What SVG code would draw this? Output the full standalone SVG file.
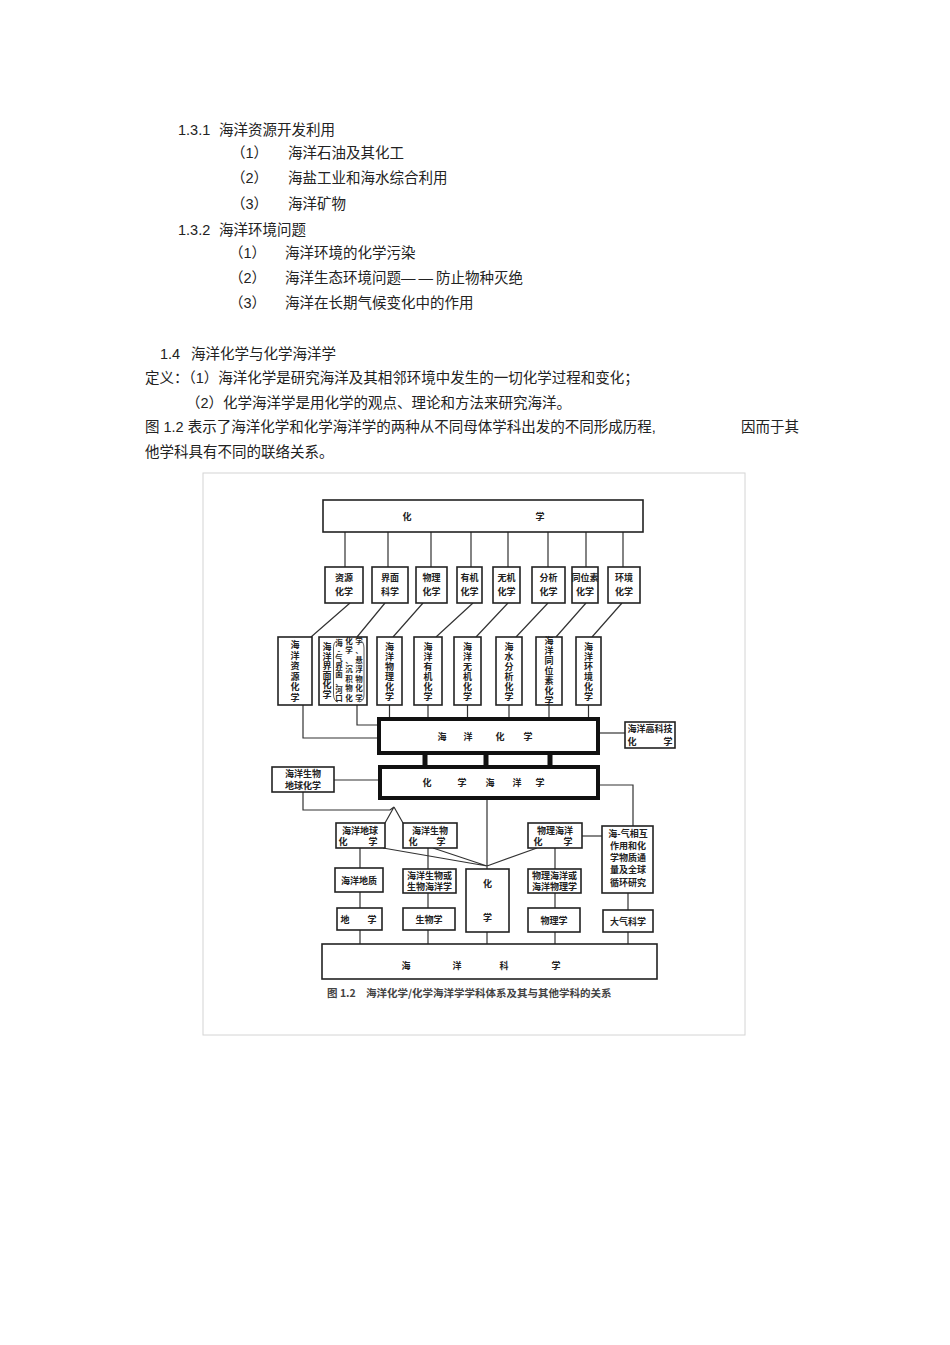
<svg xmlns="http://www.w3.org/2000/svg" width="950" height="1345" viewBox="0 0 950 1345">
<style>
.t{font-family:"Liberation Sans","Noto Sans CJK SC",sans-serif;font-size:14.5px;fill:#222}
.d{font-family:"Noto Sans CJK SC",sans-serif;font-size:9px;font-weight:bold;fill:#222;text-anchor:middle}
.s{font-size:7.5px}
.b{fill:#fff;stroke:#222;stroke-width:1.6}
.bt{fill:#fff;stroke:#111;stroke-width:4}
.c{fill:none;stroke:#333;stroke-width:1.2}
.cap{font-family:"Noto Sans CJK SC",sans-serif;font-size:10.5px;font-weight:bold;fill:#444}
</style>
<rect width="950" height="1345" fill="#fff"/>
<g id="page-text">
<text class="t" x="178" y="135">1.3.1</text><text class="t" x="219" y="135">海洋资源开发利用</text>
<text class="t" x="231" y="158">（1）</text><text class="t" x="288" y="158">海洋石油及其化工</text>
<text class="t" x="231" y="183">（2）</text><text class="t" x="288" y="183">海盐工业和海水综合利用</text>
<text class="t" x="231" y="209">（3）</text><text class="t" x="288" y="209">海洋矿物</text>
<text class="t" x="178" y="235">1.3.2</text><text class="t" x="219" y="235">海洋环境问题</text>
<text class="t" x="229" y="258">（1）</text><text class="t" x="285" y="258">海洋环境的化学污染</text>
<text class="t" x="229" y="283">（2）</text><text class="t" x="285" y="283">海洋生态环境问题<tspan letter-spacing="3">——</tspan>防止物种灭绝</text>
<text class="t" x="229" y="308">（3）</text><text class="t" x="285" y="308">海洋在长期气候变化中的作用</text>
<text class="t" x="160" y="359">1.4</text><text class="t" x="191" y="359">海洋化学与化学海洋学</text>
<text class="t" x="145" y="383">定义：（1）海洋化学是研究海洋及其相邻环境中发生的一切化学过程和变化；</text>
<text class="t" x="186" y="408">（2）化学海洋学是用化学的观点、理论和方法来研究海洋。</text>
<text class="t" x="145" y="432">图 1.2 表示了海洋化学和化学海洋学的两种从不同母体学科出发的不同形成历程,</text>
<text class="t" x="741" y="432">因而于其</text>
<text class="t" x="145" y="457">他学科具有不同的联络关系。</text>
</g>
<rect id="figure-frame" x="203" y="473" width="542" height="562" fill="none" stroke="#d4d4d4" stroke-width="1"/>
<g id="connectors">
<path class="c" d="M345 532V567M388 532V567M431 532V567M471 532V567M508 532V567M548 532V567M586 532V567M623 532V567"/>
<path class="c" d="M350 603L311 637M385 603L357 637M423 603L393 637M473 603L436 637M508 603L476 637M548 603L516 637M586 603L556 637M622 603L592 637"/>
<path class="c" d="M389.5 705V717M428 705V717M467.5 705V717M509 705V717M549 705V717M588.5 705V717"/>
<path class="c" d="M303 705V738H377M357 705V725H377"/>
<path class="c" d="M600 733H625"/>
<path d="M422.5 753h5v14h-5zM483.5 753h5v14h-5zM547.5 753h5v14h-5z" fill="#111"/>
<path class="c" d="M334 780H378"/>
<path class="c" d="M303 792V810H390L394 807L385 823M394 807L403 823"/>
<path class="c" d="M487 800V869M383 848L487 866M433 848L487 866M537 848L487 866"/>
<path class="c" d="M360 848V868M360 892V908M360 930V944"/>
<path class="c" d="M428 848V869M428 893V908M428 930V944"/>
<path class="c" d="M487 932V944"/>
<path class="c" d="M555 848V869M555 893V908M555 932V944"/>
<path class="c" d="M628 893V910M628 932V944"/>
<path class="c" d="M582 836H602"/>
<path class="c" d="M600 785H633V826"/>
</g>
<g id="n-huaxue"><rect class="b" x="323" y="500" width="320" height="32"/><text class="d" x="407" y="520">化</text><text class="d" x="540" y="520">学</text></g>
<g id="n-ziyuan"><rect class="b" x="325" y="567" width="38" height="36"/><text class="d" x="344" y="581">资源</text><text class="d" x="344" y="595">化学</text></g>
<g id="n-jiemian"><rect class="b" x="372" y="567" width="36" height="36"/><text class="d" x="390" y="581">界面</text><text class="d" x="390" y="595">科学</text></g>
<g id="n-wuli"><rect class="b" x="416" y="567" width="31" height="36"/><text class="d" x="431.5" y="581">物理</text><text class="d" x="431.5" y="595">化学</text></g>
<g id="n-youji"><rect class="b" x="457" y="567" width="25" height="36"/><text class="d" x="469.5" y="581">有机</text><text class="d" x="469.5" y="595">化学</text></g>
<g id="n-wuji"><rect class="b" x="493" y="567" width="27" height="36"/><text class="d" x="506.5" y="581">无机</text><text class="d" x="506.5" y="595">化学</text></g>
<g id="n-fenxi"><rect class="b" x="532" y="567" width="33" height="36"/><text class="d" x="548.5" y="581">分析</text><text class="d" x="548.5" y="595">化学</text></g>
<g id="n-tongweisu"><rect class="b" x="572" y="567" width="26" height="36"/><text class="d" x="585" y="581">同位素</text><text class="d" x="585" y="595">化学</text></g>
<g id="n-huanjing"><rect class="b" x="608" y="567" width="32" height="36"/><text class="d" x="624" y="581">环境</text><text class="d" x="624" y="595">化学</text></g>

<g id="n-hy-ziyuan"><rect class="b" x="278" y="637" width="34" height="68"/><text class="d" x="295 295 295 295 295 295" y="648 658.5 669 679.5 690 700.5">海洋资源化学</text></g>
<g id="n-hy-jiemian"><rect class="b" x="319" y="637" width="48" height="68"/>
<text class="d" x="327 327 327 327 327 327" y="650 659.6 669.2 678.8 688.4 698">海洋界面化学</text>
<text class="d s" x="339 339 339 339 339 339 339 339" y="645.7 653.6 661.4 669.3 677.1 685 692.8 700.7">海-气界面、河口</text>
<text class="d s" x="349 349 349 349 349 349 349" y="643.7 653.2 662.7 672.2 681.7 691.2 700.7">化学、沉积物化</text>
<text class="d s" x="359 359 359 359 359 359 359" y="643.7 653.2 662.7 672.2 681.7 691.2 700.7">学、悬浮物化学</text>
<path d="M337 641Q333 642 333.5 650V694Q333.5 701 338 702M359 640Q364 641 364 648V695Q364 701 359 702" fill="none" stroke="#333" stroke-width="0.8"/>
</g>
<g id="n-hy-wuli"><rect class="b" x="377" y="637" width="25" height="68"/><text class="d" x="389.5 389.5 389.5 389.5 389.5 389.5" y="650 660 670 680 690 700">海洋物理化学</text></g>
<g id="n-hy-youji"><rect class="b" x="414" y="637" width="28" height="68"/><text class="d" x="428 428 428 428 428 428" y="650 660 670 680 690 700">海洋有机化学</text></g>
<g id="n-hy-wuji"><rect class="b" x="454" y="637" width="27" height="68"/><text class="d" x="467.5 467.5 467.5 467.5 467.5 467.5" y="650 660 670 680 690 700">海洋无机化学</text></g>
<g id="n-hs-fenxi"><rect class="b" x="496" y="637" width="26" height="68"/><text class="d" x="509 509 509 509 509 509" y="650 660 670 680 690 700">海水分析化学</text></g>
<g id="n-hy-tongweisu"><rect class="b" x="536" y="637" width="26" height="68"/><text class="d" x="549 549 549 549 549 549 549" y="644 654 664 674 684 694 704">海洋同位素化学</text></g>
<g id="n-hy-huanjing"><rect class="b" x="576" y="637" width="25" height="68"/><text class="d" x="588.5 588.5 588.5 588.5 588.5 588.5" y="650 660 670 680 690 700">海洋环境化学</text></g>

<g id="n-haiyanghuaxue"><rect class="bt" x="379" y="719" width="219" height="34"/><text class="d" x="442" y="740">海</text><text class="d" x="468" y="740">洋</text><text class="d" x="500" y="740">化</text><text class="d" x="528" y="740">学</text></g>
<g id="n-gaokeji"><rect class="b" x="625" y="722" width="50" height="26"/><text class="d" x="650" y="732">海洋高科技</text><text class="d" x="632" y="745">化</text><text class="d" x="668" y="745">学</text></g>
<g id="n-huaxuehaiyang"><rect class="bt" x="380" y="767" width="218" height="31"/><text class="d" x="427" y="786">化</text><text class="d" x="462" y="786">学</text><text class="d" x="490" y="786">海</text><text class="d" x="517" y="786">洋</text><text class="d" x="540" y="786">学</text></g>
<g id="n-shengwudiqiu"><rect class="b" x="272" y="767" width="62" height="25"/><text class="d" x="303" y="776.5">海洋生物</text><text class="d" x="303" y="789">地球化学</text></g>

<g id="n-diqiuhuaxue"><rect class="b" x="336" y="823" width="49" height="25"/><text class="d" x="360" y="833.5">海洋地球</text><text class="d" x="343" y="844.5">化</text><text class="d" x="373" y="844.5">学</text></g>
<g id="n-shengwuhuaxue"><rect class="b" x="403" y="823" width="54" height="25"/><text class="d" x="430" y="833.5">海洋生物</text><text class="d" x="413" y="844.5">化</text><text class="d" x="441" y="844.5">学</text></g>
<g id="n-wulihaiyang"><rect class="b" x="528" y="823" width="54" height="25"/><text class="d" x="555" y="833.5">物理海洋</text><text class="d" x="538" y="844.5">化</text><text class="d" x="568" y="844.5">学</text></g>
<g id="n-haiqi"><rect class="b" x="602" y="826" width="51" height="67"/>
<text class="d" x="628" y="836.5">海-气相互</text><text class="d" x="628" y="848.5">作用和化</text><text class="d" x="628" y="860.5">学物质通</text><text class="d" x="628" y="873">量及全球</text><text class="d" x="628" y="886">循环研究</text></g>

<g id="n-dizhi"><rect class="b" x="335" y="868" width="48" height="24"/><text class="d" x="359" y="883.5">海洋地质</text></g>
<g id="n-shengwuhaiyang"><rect class="b" x="403" y="869" width="53" height="24"/><text class="d" x="429.5" y="878.5">海洋生物或</text><text class="d" x="429.5" y="890">生物海洋学</text></g>
<g id="n-huaxue2"><rect class="b" x="466" y="869" width="43" height="63"/><text class="d" x="487.5" y="886.5">化</text><text class="d" x="487.5" y="920.5">学</text></g>
<g id="n-haiyangwuli"><rect class="b" x="528" y="869" width="53" height="24"/><text class="d" x="554.5" y="878.5">物理海洋或</text><text class="d" x="554.5" y="890">海洋物理学</text></g>

<g id="n-dixue"><rect class="b" x="337" y="908" width="45" height="22"/><text class="d" x="345" y="922.5">地</text><text class="d" x="372" y="922.5">学</text></g>
<g id="n-shengwuxue"><rect class="b" x="403" y="908" width="52" height="22"/><text class="d" x="429" y="922.5">生物学</text></g>
<g id="n-wulixue"><rect class="b" x="528" y="908" width="52" height="24"/><text class="d" x="554" y="923.5">物理学</text></g>
<g id="n-daqi"><rect class="b" x="603" y="910" width="50" height="22"/><text class="d" x="628" y="924.5">大气科学</text></g>

<g id="n-haiyangkexue"><rect class="b" x="322" y="944" width="335" height="35"/><text class="d" x="406" y="968.5">海</text><text class="d" x="457" y="968.5">洋</text><text class="d" x="504" y="968.5">科</text><text class="d" x="556" y="968.5">学</text></g>
<text class="cap" x="327" y="997">图 1.2</text>
<text class="cap" x="366" y="997">海洋化学/化学海洋学学科体系及其与其他学科的关系</text>
</svg>
